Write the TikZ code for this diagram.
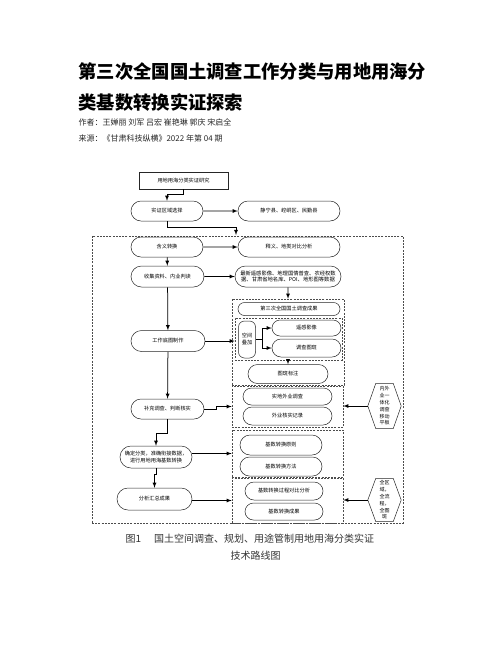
\documentclass[tikz,border=0pt]{standalone}
\usepackage{fontspec}
\setmainfont{Noto Sans CJK SC}
\usetikzlibrary{shapes.misc}
\tikzset{
  pill/.style={draw=black!85, line width=0.5pt, rounded rectangle, inner sep=0pt,
    font=\fontsize{5.2}{6.6}\selectfont, align=center},
  grp/.style={draw=black!70, dashed, dash pattern=on 2pt off 1.2pt, line width=0.55pt, inner sep=0pt},
  arr/.style={-latex, line width=0.75pt},
  hexbox/.style={inner sep=0pt, minimum width=33, minimum height=45,
    font=\fontsize{5}{6.8}\selectfont, align=center},
}
\begin{document}
\begin{tikzpicture}[x=1pt, y=-1pt]
  \useasboundingbox (0,0) rectangle (502,649);
  % 标题
  \node [anchor=west, font=\fontsize{18.3}{22}\selectfont\bfseries] (title1) at (75,72) {第三次全国国土调查工作分类与用地用海分};
  \node [anchor=west, font=\fontsize{18.3}{22}\selectfont\bfseries] (title2) at (75,102) {类基数转换实证探索};
  \node [anchor=west, font=\fontsize{8}{10}\selectfont, text=black!85] (auth) at (75,122) {作者：王婵丽 刘军 吕宏 崔艳琳 郭庆 宋启全};
  \node [anchor=west, font=\fontsize{8}{10}\selectfont, text=black!85] (src) at (75,138) {来源：《甘肃科技纵横》2022 年第 04 期};
  % 虚线框
  \node [grp, minimum width=311, minimum height=287] (big) at (247.5,379.5) {};
  \node [grp, minimum width=112, minimum height=86] (grpA) at (288,342) {};
  \node [grp, minimum width=107, minimum height=42] (grpAin) at (288.5,339) {};
  \node [grp, minimum width=111, minimum height=41] (grpB) at (287.5,406.5) {};
  \node [grp, minimum width=111, minimum height=47] (grpC) at (287.5,453.5) {};
  \node [grp, minimum width=111, minimum height=45] (grpD) at (287.5,500.5) {};
  % 左列
  \node [draw=black!85, line width=0.5pt, minimum width=89, minimum height=17, inner sep=0pt,
    font=\fontsize{5.2}{6.6}\selectfont] (top) at (183.5,180.5) {用地用海分类实证研究};
  \node [pill, minimum width=72, minimum height=20] (sel) at (167,211) {实证区域选择};
  \node [pill, minimum width=72, minimum height=20] (conv) at (167,247) {含义转换};
  \node [pill, minimum width=73, minimum height=21] (col) at (167.5,276.5) {收集资料、内业判读};
  \node [pill, minimum width=74, minimum height=21] (base) at (168,341) {工作底图制作};
  \node [pill, minimum width=73, minimum height=20] (sup) at (167.5,409) {补充调查、判断核实};
  \node [pill, minimum width=72, minimum height=22] (cls) at (156,457) {确定分类，准确衔接数据，\\进行用地用海基数转换};
  \node [pill, minimum width=75, minimum height=22] (sum) at (154.5,499) {分析汇总成果};
  % 右列
  \node [pill, minimum width=102, minimum height=20] (selR) at (289,211) {静宁县、崆峒区、民勤县};
  \node [pill, minimum width=102, minimum height=20] (convR) at (289,247) {释义、地类对比分析};
  \node [pill, minimum width=106, minimum height=21, font=\fontsize{5.3}{6.4}\selectfont] (colR) at (288,276.5)
    {最新遥感影像、地理国情普查、农经权数\\据、甘肃省地名库、POI、地形图等数据};
  \node [pill, minimum width=102, minimum height=13] (res) at (289,309) {第三次全国国土调查成果};
  \node [draw=black!85, line width=0.5pt, rounded corners=6pt, minimum width=17, minimum height=37, inner sep=0pt,
    font=\fontsize{5.2}{7}\selectfont, align=center] (ovl) at (247,339.5) {空间\\叠加};
  \node [pill, minimum width=69, minimum height=16] (rs) at (306.5,328) {遥感影像};
  \node [pill, minimum width=69, minimum height=18] (sp) at (306.5,348) {调查图斑};
  \node [pill, minimum width=80, minimum height=19] (tag) at (288,374) {图斑标注};
  \node [pill, minimum width=89, minimum height=17] (field) at (287.5,396.5) {实地外业调查};
  \node [pill, minimum width=89, minimum height=18] (rec) at (287.5,416) {外业核实记录};
  \node [pill, minimum width=82, minimum height=20] (prin) at (281,445) {基数转换原则};
  \node [pill, minimum width=82, minimum height=19] (meth) at (281,466.5) {基数转换方法};
  \node [pill, minimum width=78, minimum height=18] (cmp) at (284,491) {基数转换过程对比分析};
  \node [pill, minimum width=78, minimum height=17] (out) at (284,511.5) {基数转换成果};
  % 六边形
  \node [hexbox] (hexA) at (384.5,406) {内外\\业一\\体化\\调查\\移动\\平板};
  \node [hexbox, minimum height=43] (hexB) at (384.5,500) {全区\\域，\\全流\\程，\\全图\\斑};
  \foreach \h in {hexA, hexB}
    \draw [black!85, line width=0.5pt] (\h.west) -- ([xshift=8pt]\h.north west) -- ([xshift=-8pt]\h.north east)
      -- (\h.east) -- ([xshift=-8pt]\h.south east) -- ([xshift=8pt]\h.south west) -- cycle;
  % 连线
  \coordinate (entry) at (236,235);
  \draw [arr] (top.south) -- ++(0,5) -| (sel.north);
  \draw [arr] (sel) -- (selR);
  \draw [arr] (sel.south) -- ++(0,6) -| (entry);
  \draw [arr] (conv) -- (convR);
  \draw [arr] (conv) -- (col);
  \draw [arr] (col) -- (colR);
  \draw [arr] (colR) -- (grpA.north -| colR);
  \draw [arr] (col) -- (base);
  \draw [arr] (base.east) -- (base.east -| grpAin.west);
  \draw (ovl.east) -- ++(6.5,0) coordinate (fork);
  \draw [arr] (fork) |- (rs.west);
  \draw [arr] (fork) |- (sp.west);
  \draw [arr] (grpAin.south -| tag) -- (tag.north);
  \draw [arr] (base) -- (sup);
  \draw [arr] (sup.east) -- ++(12,0) |- (grpB.west);
  \draw [arr] (hexA.west) -- (hexA.west -| grpB.east);
  \draw [arr] (sup.south) -- ++(0,14) -| (cls.north);
  \draw [arr] (cls.east |- grpC.west) -- (grpC.west);
  \draw [arr] (cls.south) -- ++(0,6) -| (sum.north);
  \draw [arr] (sum.east |- grpD.west) -- (grpD.west);
  \draw [arr] (hexB.west) -- (hexB.west -| grpD.east);
  % 图题
  \node [anchor=west, font=\fontsize{10}{12}\selectfont, text=black!80] (cap1) at (122,539) {图1\hspace{13pt}国土空间调查、规划、用途管制用地用海分类实证};
  \node [font=\fontsize{10}{12}\selectfont, text=black!80] (cap2) at (255.5,556) {技术路线图};
\end{tikzpicture}
\end{document}
